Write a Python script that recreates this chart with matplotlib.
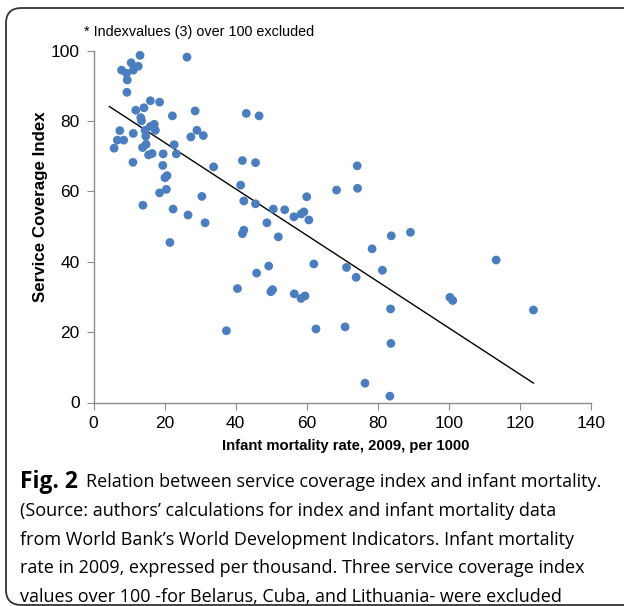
import numpy as np
import matplotlib
matplotlib.use('Agg')
import matplotlib.pyplot as plt
from matplotlib.patches import FancyBboxPatch

# infant mortality rate (per 1000) and service coverage index
infant_mortality = [13.1, 26.3, 7.9, 10.6, 11.2, 12.6, 9.3, 9.5, 9.4, 16.0,
                    18.6, 11.9, 14.2, 28.6, 22.2, 43.0, 46.6, 13.3, 13.5, 17.1,
                    16.0, 17.4, 7.4, 14.5, 14.7, 11.2, 6.7, 8.5, 29.1, 27.4,
                    30.9, 14.8, 13.8, 5.8, 22.7, 23.3, 19.6, 15.5, 16.5, 11.1,
                    19.5, 33.8, 41.9, 45.6, 20.7, 20.1, 41.4, 18.6, 20.5, 30.5,
                    42.3, 45.6, 13.9, 22.4, 26.6, 21.5, 31.4, 41.9, 42.3, 45.9,
                    40.5, 37.4, 74.2, 68.4, 74.3, 60.0, 50.6, 53.8, 56.4, 58.4,
                    59.2, 60.6, 48.8, 52.0, 83.8, 89.2, 78.4, 62.0, 71.2, 81.3,
                    73.9, 49.3, 49.9, 50.4, 56.5, 58.4, 59.5, 100.3, 101.1, 123.8,
                    83.6, 62.6, 70.8, 83.7, 76.4, 83.4, 113.3]
coverage_index = [98.7, 98.2, 94.5, 96.6, 94.5, 95.6, 93.6, 91.7, 88.2, 85.8,
                  85.4, 83.1, 83.8, 82.9, 81.5, 82.2, 81.5, 81.0, 80.1, 79.1,
                  78.5, 77.4, 77.3, 77.4, 75.7, 76.5, 74.6, 74.6, 77.4, 75.5,
                  75.9, 73.4, 72.5, 72.3, 73.3, 70.7, 70.7, 70.4, 70.8, 68.3,
                  67.4, 67.0, 68.8, 68.2, 64.5, 63.9, 61.8, 59.6, 60.6, 58.6,
                  57.3, 56.5, 56.1, 55.0, 53.3, 45.5, 51.1, 48.0, 49.0, 36.8,
                  32.4, 20.4, 67.3, 60.4, 60.9, 58.5, 55.0, 54.8, 52.8, 53.6,
                  54.2, 51.9, 51.1, 47.1, 47.4, 48.4, 43.7, 39.4, 38.4, 37.6,
                  35.6, 38.8, 31.5, 32.1, 30.9, 29.6, 30.3, 29.9, 29.0, 26.3,
                  26.6, 20.9, 21.5, 16.8, 5.5, 1.8, 40.5]

# linear trend as drawn in the picture (fitted on the full data set incl. excluded values)
trend_slope = -0.659
trend_intercept = 87.1
trend_range = [4.5, 123.8]

x_ticks = [0, 20, 40, 60, 80, 100, 120, 140]
y_ticks = [0, 20, 40, 60, 80, 100]

caption_lines = ["(Source: authors\u2019 calculations for index and infant mortality data",
                 "from World Bank\u2019s World Development Indicators. Infant mortality",
                 "rate in 2009, expressed per thousand. Three service coverage index",
                 "values over 100 -for Belarus, Cuba, and Lithuania- were excluded"]

W, H = 624, 606
fig = plt.figure(figsize=(W / 100, H / 100), dpi=100)
plt.rcParams['font.family'] = ['Liberation Sans', 'DejaVu Sans']

# rounded frame around figure + caption (runs off the right edge)
frame = FancyBboxPatch((6 / W, 1 - 605 / H), 660 / W, 597 / H,
                       boxstyle='round,pad=0,rounding_size=0.025',
                       transform=fig.transFigure, fill=False,
                       edgecolor='#333333', linewidth=1.3)
fig.patches.append(frame)

ax = fig.add_axes([93.5 / W, 1 - 402.5 / H, (591 - 93.5) / W, (402.5 - 50.8) / H])
x = np.array(infant_mortality)
y = np.array(coverage_index)
ax.scatter(x, y, s=40, color='#4a7ebf', edgecolors='none', zorder=3)

xs = np.array(trend_range)
ax.plot(xs, trend_slope * xs + trend_intercept, color='black', linewidth=1.0, zorder=2)

ax.set_xlim(0, 140)
ax.set_ylim(0, 100)
ax.set_xticks(x_ticks)
ax.set_yticks(y_ticks)
for s in ['top', 'right']:
    ax.spines[s].set_visible(False)
for s in ['left', 'bottom']:
    ax.spines[s].set_color('#8c8c8c')
    ax.spines[s].set_linewidth(1.0)
ax.tick_params(direction='out', length=5, color='#8c8c8c', labelsize=12.5, pad=5)
ax.set_xlabel('Infant mortality rate, 2009, per 1000', fontsize=10.7, fontweight='bold')
ax.set_ylabel('Service Coverage Index', fontsize=12.2, fontweight='bold')
ax.xaxis.set_label_coords(0.5075, -0.124)
ax.xaxis.label.set_va('center')
ax.yaxis.set_label_coords(-0.1075, 0.556)
ax.yaxis.label.set_va('center')

fig.text(84 / W, 1 - 32 / H, '* Indexvalues (3) over 100 excluded', fontsize=10.4, va='center')

# caption
cap_font = ['Open Sans', 'DejaVu Sans']
cap_size = 13
x0 = 20 / W
t = fig.text(x0, 1 - 482 / H, 'Fig. 2', fontsize=16.5, fontweight='bold',
             family=cap_font, va='center')
fig.canvas.draw()
bb = t.get_window_extent(renderer=fig.canvas.get_renderer())
fig.text((bb.x1 + 8) / W, 1 - 482 / H, 'Relation between service coverage index and infant mortality.',
         fontsize=cap_size, family=cap_font, va='center')
for i, line in enumerate(caption_lines):
    fig.text(x0, 1 - (511 + 28.7 * i) / H, line, fontsize=cap_size, family=cap_font, va='center')

fig.savefig('out.png', dpi=100)
